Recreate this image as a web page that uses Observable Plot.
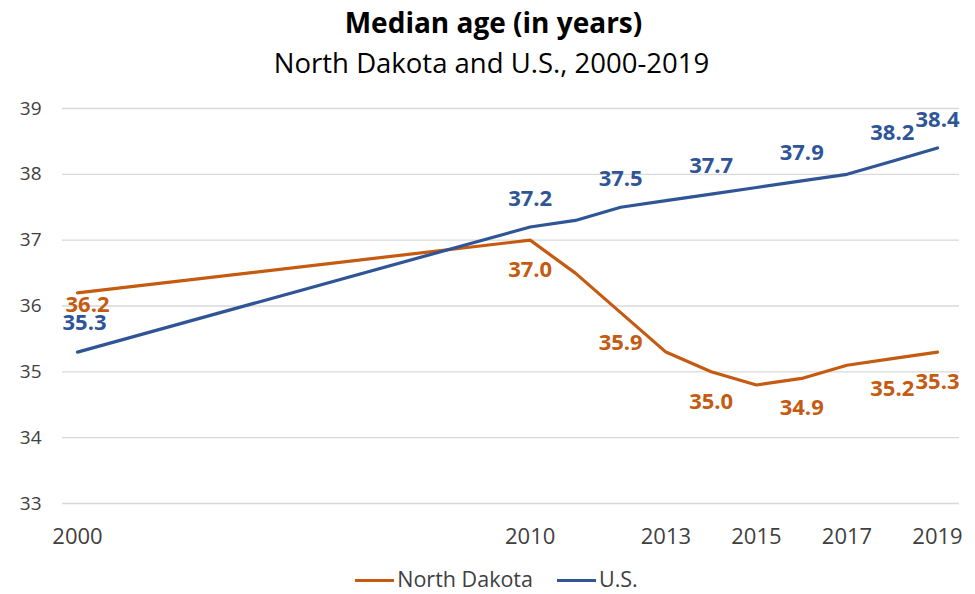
<!DOCTYPE html>
<html>
<head>
<meta charset="utf-8">
<script src="https://cdn.jsdelivr.net/npm/d3@7"></script>
<script src="https://cdn.jsdelivr.net/npm/@observablehq/plot@0.6"></script>
<style>
  html, body { margin: 0; padding: 0; background: #fff; overflow: hidden; width: 975px; height: 594px; }
  body { font-family: "Open Sans", sans-serif; color: #000; }
  #title { margin-top: 2px; height: 40px; line-height: 40px; font-size: 28px; font-weight: 700; text-align: center; padding-left: 12px; white-space: nowrap; }
  #subtitle { margin-top: 1px; height: 40px; line-height: 40px; font-size: 27.5px; font-weight: 400; text-align: center; padding-left: 8px; white-space: nowrap; }
  #chart svg { display: block; }
  #legend { margin-top: 5px; height: 22px; line-height: 22px; font-size: 21.5px; color: #404040; text-align: center; padding-left: 18px; white-space: nowrap; }
  .item { display: inline-block; margin: 0 12px; }
  .sw { display: inline-block; width: 39px; height: 3px; vertical-align: middle; margin-right: 3px; position: relative; top: -1px; }
</style>
</head>
<body>
<div id="title">Median age (in years)</div>
<div id="subtitle">North Dakota and U.S., 2000-2019</div>
<div id="chart"></div>
<div id="legend"></div>
<script>
const years = [2000, 2010, 2011, 2012, 2013, 2014, 2015, 2016, 2017, 2018, 2019];
const northDakota = [36.2, 37.0, 36.5, 35.9, 35.3, 35.0, 34.8, 34.9, 35.1, 35.2, 35.3];
const unitedStates = [35.3, 37.2, 37.3, 37.5, 37.6, 37.7, 37.8, 37.9, 38.0, 38.2, 38.4];
const seriesNames = ["North Dakota", "U.S."];
const seriesColors = ["#C55A11", "#2F5597"];
const xTicks = [2000, 2010, 2013, 2015, 2017, 2019];
const yTicks = [33, 34, 35, 36, 37, 38, 39];
const labelYears = [2012, 2010, 2014, 2016, 2018, 2019];
const firstYear = 2000;

const ndRows = years.map((year, i) => ({year, value: northDakota[i], series: seriesNames[0]}));
const usRows = years.map((year, i) => ({year, value: unitedStates[i], series: seriesNames[1]}));
const isLabeled = d => labelYears.includes(d.year);
const isFirst = d => d.year === firstYear;

const chart = Plot.plot({
  width: 975,
  height: 480,
  marginTop: 25,
  marginBottom: 60,
  marginLeft: 62,
  marginRight: 16,
  insetLeft: 15,
  insetRight: 22,
  style: {fontFamily: "Open Sans", background: "white", overflow: "visible"},
  x: {type: "linear", domain: [2000, 2019]},
  y: {domain: [33, 39]},
  marks: [
    Plot.gridY(yTicks, {stroke: "#D9D9D9", strokeOpacity: 1, strokeWidth: 1.3}),
    Plot.axisY(yTicks, {tickSize: 0, tickPadding: 21, fontSize: 19, fill: "#404040", label: null, tickFormat: d => String(d)}),
    Plot.axisX(xTicks, {tickSize: 0, tickPadding: 25, fontSize: 22, fill: "#404040", label: null, tickFormat: d => String(d)}),
    Plot.line(ndRows, {x: "year", y: "value", stroke: seriesColors[0], strokeWidth: 3.2, strokeLinejoin: "round"}),
    Plot.line(usRows, {x: "year", y: "value", stroke: seriesColors[1], strokeWidth: 3.2, strokeLinejoin: "round"}),
    Plot.text(ndRows.filter(isLabeled), {x: "year", y: "value", text: d => d.value.toFixed(1), dy: 30, fill: seriesColors[0], fontSize: 22, fontWeight: "bold", lineAnchor: "middle"}),
    Plot.text(usRows.filter(isLabeled), {x: "year", y: "value", text: d => d.value.toFixed(1), dy: -28, fill: seriesColors[1], fontSize: 22, fontWeight: "bold", lineAnchor: "middle"}),
    Plot.text(ndRows.filter(isFirst), {x: "year", y: "value", text: d => d.value.toFixed(1), dx: 10, dy: 12, fill: seriesColors[0], fontSize: 22, fontWeight: "bold", lineAnchor: "middle"}),
    Plot.text(usRows.filter(isFirst), {x: "year", y: "value", text: d => d.value.toFixed(1), dx: 7, dy: -29, fill: seriesColors[1], fontSize: 22, fontWeight: "bold", lineAnchor: "middle"})
  ]
});
document.getElementById("chart").appendChild(chart);

const legend = document.getElementById("legend");
seriesNames.forEach((name, i) => {
  const item = document.createElement("span");
  item.className = "item";
  const sw = document.createElement("span");
  sw.className = "sw";
  sw.style.background = seriesColors[i];
  item.appendChild(sw);
  item.appendChild(document.createTextNode(name));
  legend.appendChild(item);
});
</script>
</body>
</html>
